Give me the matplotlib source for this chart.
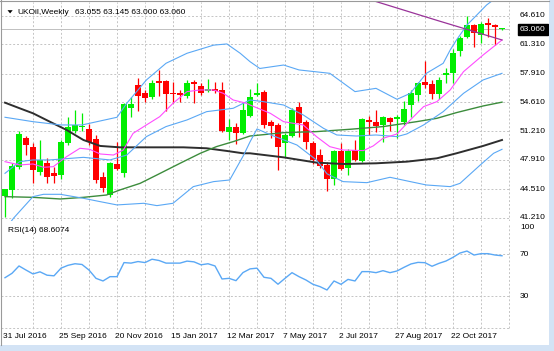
import matplotlib
matplotlib.use('Agg')
import matplotlib.pyplot as plt
import matplotlib.transforms as mtransforms
from matplotlib.patches import Rectangle, Polygon

W, H = 554, 351

# weekly UKOil candles, bar 0 = 31 Jul 2016
opens = [43.7, 44.43, 47.06, 50.4, 49.45, 46.55, 47.6, 46.45, 46.17, 49.83,
         51.3, 51.69, 51.49, 50.33, 45.9, 43.85, 47.4, 46.36, 53.89, 56.59,
         55.62, 55.16, 57.0, 57.0, 55.7, 55.62, 55.3, 56.98, 56.5, 55.9,
         56.1, 55.95, 51.1, 51.7, 51.0, 53.0, 55.43, 55.8, 52.35, 51.96,
         49.91, 50.68, 54.0, 52.34, 49.91, 48.48, 47.33, 45.67, 48.99, 46.94,
         49.06, 47.83, 52.54, 52.34, 51.96, 52.73, 52.7, 52.34, 54.27, 55.43,
         56.98, 56.71, 55.55, 57.75, 57.94, 60.56, 62.18, 63.53, 62.38, 63.8,
         63.53, 63.055]
highs = [44.6, 47.5, 51.3, 50.7, 49.85, 50.2, 48.1, 47.15, 50.22, 52.85,
         53.7, 53.3, 52.07, 50.8, 46.55, 47.71, 50.02, 54.54, 55.23, 57.4,
         56.0, 57.2, 58.3, 57.2, 56.9, 56.0, 57.17, 57.17, 56.8, 57.25,
         56.98, 56.9, 52.6, 52.2, 54.66, 56.1, 56.78, 56.0, 52.54, 52.15,
         50.99, 53.89, 54.66, 52.54, 50.14, 49.14, 47.71, 49.06, 49.84, 49.14,
         50.22, 52.73, 53.0, 53.7, 53.0, 52.85, 53.12, 54.78, 56.0, 56.98,
         59.4, 57.17, 57.48, 58.52, 60.72, 62.3, 64.57, 63.7, 63.92, 64.31,
         63.7, 63.145]
lows = [41.3, 43.5, 46.9, 48.5, 45.2, 46.2, 45.2, 45.27, 45.67, 49.64,
        50.99, 51.3, 49.64, 45.2, 44.24, 43.65, 46.75, 45.97, 52.92, 53.6,
        54.6, 54.93, 55.3, 53.6, 54.5, 54.66, 55.05, 54.47, 55.43, 55.82,
        55.62, 51.1, 50.2, 49.76, 50.9, 52.85, 55.3, 51.57, 50.42, 46.75,
        48.29, 50.6, 50.6, 49.14, 47.44, 46.94, 44.36, 45.01, 46.75, 46.17,
        47.83, 47.71, 50.8, 51.19, 50.03, 51.3, 50.42, 51.96, 52.92, 54.78,
        56.2, 54.93, 54.93, 56.78, 56.86, 59.9, 62.0, 61.02, 61.41, 62.18,
        61.22, 63.0]
closes = [44.5, 47.2, 50.9, 49.65, 46.75, 47.9, 45.97, 46.05, 50.02, 51.76,
          51.96, 51.88, 50.02, 45.59, 44.63, 47.52, 46.86, 54.39, 54.35, 55.3,
          55.1, 56.85, 56.8, 55.5, 55.55, 55.45, 56.78, 56.67, 55.65, 56.09,
          55.85, 51.25, 51.7, 51.0, 53.7, 55.24, 55.62, 51.96, 51.85, 49.45,
          50.8, 53.7, 52.15, 50.03, 47.91, 47.21, 45.67, 48.99, 46.83, 48.99,
          47.91, 52.61, 52.34, 51.84, 52.85, 52.34, 52.85, 53.77, 55.62, 56.78,
          56.59, 55.55, 57.17, 57.94, 60.33, 62.0, 63.53, 62.64, 63.65, 63.53,
          63.26, 63.06]

# indicator lines (bar index, price)
bb_up_x = [0, 4, 8, 11, 16, 17.4, 20.2, 23, 26, 29.8, 31.7, 33.6, 35, 36.4, 39.8,
           42, 46.4, 50, 53, 56, 57.9, 60.2, 62.6, 63.6, 64.5, 66, 68.8, 71]
bb_up_y = [52.85, 52.34, 51.96, 51.96, 52.85, 54.47, 57.17, 59.1, 60.26, 61.2, 61.34,
           60.26, 59.29, 58.5, 58.9, 58.33, 57.94, 55.82, 56.2, 54.93, 55.62, 57.94,
           59.1, 60.64, 61.8, 63.53, 65.85, 67.2]
bb_mid_x = [0, 2.1, 4, 6.4, 11.2, 15, 17.4, 20.2, 23, 26, 28.8, 32.6, 35, 36.9, 39.8,
            42.6, 45.5, 47.4, 50.2, 53, 56, 57.4, 59.8, 62.6, 65.5, 68.3, 71]
bb_mid_y = [46.36, 47.71, 47.91, 47.91, 48.21, 47.91, 48.48, 50.61, 51.77, 52.54, 53.5,
            53.89, 54.85, 54.66, 54.27, 53.12, 51.57, 50.8, 50.68, 50.8, 50.61, 50.92,
            51.96, 53.5, 55.62, 57.17, 57.94]
bb_low_x = [0, 1.2, 4, 5.5, 7.9, 11.2, 13.6, 16, 19.8, 21.7, 24, 26.9, 29.8, 32.1,
            34.1, 35, 36, 38, 41.7, 44.5, 46, 48.3, 51.7, 55, 57.9, 60.2, 63.6, 65,
            67.9, 69.8, 71]
bb_low_y = [39.8, 41.15, 43.66, 43.93, 43.93, 43.47, 43.08, 42.7, 42.89, 42.62, 42.89,
            44.82, 45.4, 45.59, 48.48, 50.0, 51.5, 50.8, 49.64, 47.9, 46.3, 45.4, 45.28,
            45.9, 45.4, 45.01, 44.82, 45.2, 47.33, 48.68, 49.14]
ma_fast_x = [0, 2.1, 4, 5.5, 6.9, 8.8, 10.7, 12.1, 13.6, 15.5, 16.9, 18.3, 20.2, 22.1,
             24, 26, 27.9, 29.8, 31.2, 32.6, 34.5, 35, 37.9, 39.8, 42.6, 44.5, 46.4,
             48.3, 51.2, 52.6, 54, 56, 57.9, 59.8, 61.7, 63.6, 65.5, 68.3, 71]
ma_fast_y = [47.71, 47.33, 47.44, 47.06, 47.13, 48.29, 49.26, 49.14, 48.6, 48.48, 49.06,
             50.99, 51.96, 52.92, 54.47, 55.82, 56.01, 56.01, 55.62, 54.85, 54.47, 54.27,
             53.31, 52.34, 51.96, 50.61, 49.45, 49.06, 48.99, 49.53, 50.41, 50.92, 52.54,
             54.08, 54.66, 56.01, 58.13, 60.06, 61.8]
ma_mid_x = [0, 4, 7.9, 11.2, 14.5, 16.4, 19.3, 21.7, 25, 27.9, 30.2, 32.6, 35, 39.8,
            44.5, 49.3, 54, 58.8, 61.7, 64.5, 68.3, 71]
ma_mid_y = [43.66, 43.58, 43.39, 43.58, 43.85, 44.43, 45.2, 46.17, 47.52, 48.68, 49.45,
            50.03, 50.68, 51.07, 51.19, 51.46, 51.77, 52.34, 52.73, 53.39, 54.16, 54.6]
ma_slow_x = [0, 2.1, 4, 6.4, 8.8, 11.2, 13.6, 16.4, 20.7, 25.5, 28.8, 31.7, 34, 35,
             39.8, 44.5, 48.3, 53, 57.4, 61.7, 64.5, 68.3, 71]
ma_slow_y = [54.54, 53.89, 53.31, 52.34, 51.38, 50.22, 49.53, 49.37, 49.37, 49.37, 49.26,
             48.95, 48.68, 48.68, 48.21, 47.6, 47.44, 47.52, 47.71, 48.1, 48.68, 49.53,
             50.22]
ma_long_x = [52, 62, 71]
ma_long_y = [66.5, 64.0, 61.8]

rsi = [47.7, 51.9, 58.9, 55.0, 51.3, 53.3, 50.1, 49.5, 56.8, 59.5,
       61.0, 60.3, 55.0, 47.1, 44.6, 48.7, 48.7, 62.1, 61.6, 63.1,
       62.1, 65.3, 64.1, 61.6, 61.6, 61.6, 63.5, 62.8, 60.0, 61.0,
       58.9, 46.5, 47.1, 44.9, 52.6, 56.1, 56.8, 48.1, 47.1, 41.5,
       47.1, 52.5, 48.7, 45.5, 41.4, 39.2, 36.0, 44.6, 41.4, 46.1,
       44.6, 53.5, 53.5, 52.5, 54.4, 52.5, 54.1, 57.6, 60.8, 62.3,
       62.0, 58.6, 61.4, 63.6, 67.1, 71.2, 73.1, 69.3, 70.6, 70.6,
       69.3, 68.6]

price_ticks = [64.61, 61.31, 57.91, 54.61, 51.21, 47.91, 44.51, 41.21]
rsi_ticks = [('100', 95.3), ('70', 70), ('30', 30)]
date_labels = ['31 Jul 2016', '25 Sep 2016', '20 Nov 2016', '15 Jan 2017', '12 Mar 2017',
               '7 May 2017', '2 Jul 2017', '27 Aug 2017', '22 Oct 2017']
date_bars = [0, 8, 16, 24, 32, 40, 48, 56, 64]
last_price = 63.06

########################################
plt.rcParams['font.family'] = ['Liberation Sans', 'DejaVu Sans']
fts = 6
grid_col = '#c4c4c4'
grid_ls = (0, (2, 2))
up_col, dn_col = '#00ee00', '#ff0000'
blue = '#5aa8f5'


def px_rect(l, t, r, b):
    return [l / W, 1 - b / H, (r - l) / W, (b - t) / H]


fig = plt.figure(figsize=(W / 100, H / 100), dpi=100)
fig.patch.set_facecolor('white')

ax = fig.add_axes(px_rect(1, 2, 510, 221))
rax = fig.add_axes(px_rect(1, 223, 510, 329))
xlim = (-4 / 7, 505 / 7)
for a in (ax, rax):
    a.set_xlim(*xlim)
    a.axis('off')
ax.set_ylim(40.84, 66.196)
rax.set_ylim(-1.14, 99.8)

# grid
for k in range(4, 73, 4):
    ax.axvline(k, color=grid_col, ls=grid_ls, lw=0.7, zorder=0)
    rax.vlines(k, 0, 100, color=grid_col, ls=grid_ls, lw=0.7, zorder=0)
for p in price_ticks:
    ax.axhline(p, color=grid_col, ls=grid_ls, lw=0.7, zorder=0)
for lev in (70, 30, 0):
    rax.axhline(lev, color=grid_col, ls=grid_ls, lw=0.7, zorder=0)
ax.axhline(last_price, color='#c0c0c0', lw=0.7, zorder=1)

# candles
idx = list(range(len(opens)))
cols = [up_col if c >= o else dn_col for o, c in zip(opens, closes)]
ax.vlines(idx, lows, highs, colors=cols, lw=0.9, zorder=2)
bottoms = [min(o, c) for o, c in zip(opens, closes)]
heights = [max(abs(c - o), 0.12) for o, c in zip(opens, closes)]
ax.bar(idx, heights, bottom=bottoms, width=0.72, color=cols, linewidth=0, zorder=3)

# indicators
ax.plot(ma_slow_x, ma_slow_y, color='#2e2e2e', lw=1.4, zorder=4)
ax.plot(ma_mid_x, ma_mid_y, color='#3c8c3c', lw=1.0, zorder=4)
ax.plot(bb_up_x, bb_up_y, color=blue, lw=0.8, zorder=4)
ax.plot(bb_mid_x, bb_mid_y, color=blue, lw=0.8, zorder=4)
ax.plot(bb_low_x, bb_low_y, color=blue, lw=0.8, zorder=4)
ax.plot(ma_fast_x, ma_fast_y, color='#ff4cff', lw=0.8, zorder=4)
ax.plot(ma_long_x, ma_long_y, color='#993399', lw=0.9, zorder=4)

rax.plot(idx, rsi, color=blue, lw=1.0, zorder=3)

# right scale
lab_x = (520 - 1) / 509
for p in price_ticks:
    ax.text(lab_x, p, '%.3f' % p, transform=ax.get_yaxis_transform(),
            fontsize=fts, va='center', ha='left', clip_on=False)
for s, lev in rsi_ticks:
    rax.text(lab_x, lev, s, transform=rax.get_yaxis_transform(),
             fontsize=fts, va='center', ha='left', clip_on=False)
ax.text(lab_x, last_price, '%.3f' % last_price, transform=ax.get_yaxis_transform(),
        fontsize=fts, va='center', ha='left', color='white', clip_on=False, zorder=10,
        bbox=dict(boxstyle='square,pad=0.25', facecolor='black', edgecolor='black'))

# date labels
dtr = mtransforms.blended_transform_factory(rax.transData, fig.transFigure)
for b, s in zip(date_bars, date_labels):
    rax.text(b - 0.25, 1 - 336 / H, s, transform=dtr, fontsize=fts,
             va='center', ha='left', clip_on=False)

# header texts
fig.text(17 / W, 1 - 12 / H, 'UKOil,Weekly', fontsize=fts, va='center', ha='left')
fig.text(75 / W, 1 - 12 / H, '63.055 63.145 63.000 63.060', fontsize=fts,
         va='center', ha='left')
fig.text(8 / W, 1 - 230 / H, 'RSI(14) 68.6074', fontsize=fts, va='center', ha='left')
tri = [(7.5 / W, 1 - 10.2 / H), (12.7 / W, 1 - 10.2 / H), (10.1 / W, 1 - 13.4 / H)]
fig.patches.append(Polygon(tri, closed=True, transform=fig.transFigure,
                           facecolor='black', edgecolor='none'))

# window frame
frame = '#d3e3f5'
fig.patches.append(Rectangle((549 / W, 0), 5 / W, 1, transform=fig.transFigure,
                             facecolor=frame, edgecolor='none'))
fig.patches.append(Rectangle((0, 0), 1, 6 / H, transform=fig.transFigure,
                             facecolor=frame, edgecolor='none'))
fig.add_artist(plt.Line2D([1 / W, 1 / W], [6 / H, 1], transform=fig.transFigure,
                          color='#9a9a9a', lw=0.8))
fig.add_artist(plt.Line2D([0, 549 / W], [1 - 1 / H, 1 - 1 / H], transform=fig.transFigure,
                          color='#9a9a9a', lw=0.8))

fig.savefig('out.png', dpi=100, facecolor='white')
